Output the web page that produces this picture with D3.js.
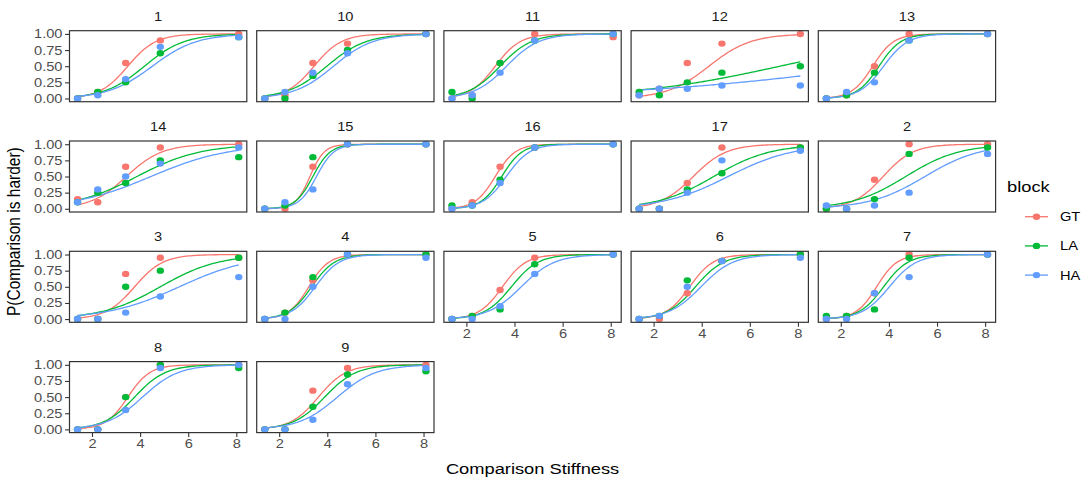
<!DOCTYPE html>
<html>
<head>
<meta charset="utf-8">
<script src="https://cdn.jsdelivr.net/npm/d3@7"></script>
<style>
  body { margin: 0; background: #fff; }
  svg { display: block; font-family: "Liberation Sans", Arial, Helvetica, sans-serif; }
  .tick text { fill: #4d4d4d; font-size: 12.4px; }
  .tick line { stroke: #333; stroke-width: 1.1; }
  .domain { display: none; }
</style>
</head>
<body>
<svg id="chart" width="1083" height="479"></svg>
<script>
// ── Data ──
const facets = ["1", "10", "11", "12", "13", "14", "15", "16", "17", "2", "3", "4", "5", "6", "7", "8", "9"];
const stiffness = [1.4, 2.24, 3.4, 4.84, 8.1];
const blocks = ["GT", "LA", "HA"];
const blockColors = ["#F8766D", "#00BA38", "#619CFF"];

// observed proportion "comparison is harder", one row per facet (same order as facets)
const gtProp = [
  [0, 0.1, 0.55, 0.9, 1], [0, 0.05, 0.55, 0.85, 1], [0, 0.05, 0.55, 1, 0.95], [0.05, 0.15, 0.55, 0.85, 1],
  [0, 0.05, 0.5, 1, 1], [0.15, 0.1, 0.65, 0.95, 1], [0, 0, 0.65, 1, 1], [0, 0.1, 0.65, 0.95, 1],
  [0, 0, 0.4, 0.95, 0.95], [0, 0, 0.45, 1, 1], [0, 0, 0.7, 0.95, 0.95], [0, 0.1, 0.6, 1, 1],
  [0, 0.05, 0.45, 0.95, 1], [0, 0, 0.4, 0.9, 1], [0, 0.05, 0.4, 1, 1], [0, 0, 0.5, 1, 1], [0, 0, 0.6, 0.95, 1]
];
const laProp = [
  [0, 0.1, 0.25, 0.7, 0.95], [0, 0, 0.35, 0.75, 1], [0.1, 0, 0.55, 0.9, 1], [0.1, 0.05, 0.25, 0.4, 0.5],
  [0, 0.05, 0.4, 0.9, 1], [0.1, 0.25, 0.4, 0.75, 0.8], [0, 0.05, 0.8, 1, 1], [0.05, 0.05, 0.45, 0.95, 1],
  [0, 0, 0.3, 0.55, 0.95], [0, 0, 0.15, 0.85, 0.95], [0, 0, 0.5, 0.75, 0.95], [0, 0.1, 0.65, 1, 1],
  [0, 0.05, 0.15, 0.85, 1], [0, 0.05, 0.6, 0.9, 1], [0.05, 0.05, 0.15, 0.95, 1], [0, 0, 0.5, 1, 0.95], [0, 0, 0.35, 0.85, 0.9]
];
const haProp = [
  [0, 0.05, 0.3, 0.8, 0.95], [0, 0.1, 0.4, 0.7, 1], [0, 0.05, 0.4, 0.9, 1], [0.05, 0.15, 0.15, 0.2, 0.2],
  [0, 0.1, 0.25, 0.9, 1], [0.1, 0.3, 0.5, 0.7, 0.95], [0, 0.1, 0.3, 1, 1], [0, 0.05, 0.4, 0.95, 1],
  [0, 0, 0.25, 0.75, 0.9], [0.05, 0, 0.05, 0.25, 0.85], [0, 0, 0.1, 0.35, 0.65], [0, 0, 0.5, 1, 0.95],
  [0, 0, 0.2, 0.7, 1], [0, 0.05, 0.5, 0.9, 0.95], [0, 0, 0.4, 0.65, 1], [0, 0, 0.3, 0.95, 1], [0, 0, 0.15, 0.7, 0.95]
];

// fitted psychometric curves (model estimates): point of subjective equality and logit slope per facet
const gtPse   = [3.49, 3.45, 3.2, 4.3, 3.33, 3.43, 3.28, 3.2, 3.65, 3.76, 3.77, 3.23, 3.5, 3.5, 3.49, 3.49, 3.63];
const gtSlope = [1.72, 1.75, 1.92, 1.15, 2.3, 1.35, 3.35, 2.4, 1.45, 1.6, 1.69, 2.4, 2.05, 2.05, 2.35, 2.18, 1.74];
const laPse   = [4.18, 3.98, 3.4, 7.25, 3.59, 3.87, 3.4, 3.47, 4.5, 4.7, 4.84, 3.35, 3.87, 3.74, 3.78, 3.77, 3.89];
const laSlope = [1.21, 1.22, 1.53, 0.325, 2.2, 0.76, 2.75, 2.36, 0.85, 0.9, 0.83, 2.1, 1.8, 1.7, 1.97, 1.56, 1.53];
const haPse   = [4.51, 4.26, 3.67, 11.4, 3.78, 4.45, 3.55, 3.66, 5.1, 5.5, 5.63, 3.5, 4.28, 3.97, 4.02, 4.1, 4.42];
const haSlope = [1.09, 1.22, 1.49, 0.19, 1.97, 0.62, 2.75, 2.06, 0.74, 0.87, 0.67, 2.0, 1.44, 1.5, 1.77, 1.34, 1.25];

const propsByBlock = [gtProp, laProp, haProp];
const pseByBlock = [gtPse, laPse, haPse];
const slopeByBlock = [gtSlope, laSlope, haSlope];
const yTicks = [0, 0.25, 0.5, 0.75, 1];
const xTicks = [2, 4, 6, 8];

// ── Layout ──
const svg = d3.select("#chart");
const nCol = 5;
const panelW = 177.3, panelH = 71;
const colStep = 187.2, rowStep = 110.3;
const left0 = 69.5, top0 = 30.7;
const sx = 1.18; // the original render is stretched horizontally; text follows it

const x = d3.scaleLinear()
  .domain([1.4 - 0.05 * 6.7, 8.1 + 0.05 * 6.7])
  .range([0, panelW]);
const y = d3.scaleLinear()
  .domain([-0.05, 1.05])
  .range([panelH, 0]);

const line = d3.line().x(d => x(d[0])).y(d => y(d[1]));
const xGrid = d3.range(0, 81).map(i => 1.4 + (8.1 - 1.4) * i / 80);

function addText(sel, tx, ty, str, size, anchor, fill) {
  return sel.append("text")
    .attr("transform", `translate(${tx},${ty}) scale(${sx},1)`)
    .attr("text-anchor", anchor || "start")
    .attr("font-size", size + "px")
    .attr("fill", fill || "#000")
    .text(str);
}

// stretch axis tick labels the same way
function stretchTicks(axisG) {
  axisG.selectAll(".tick text").each(function () {
    const t = d3.select(this);
    const ox = +t.attr("x") || 0;
    t.attr("x", ox / sx).attr("transform", `scale(${sx},1)`);
  });
}

facets.forEach((name, fi) => {
  const col = fi % nCol, row = Math.floor(fi / nCol);
  const gx = left0 + col * colStep, gy = top0 + row * rowStep;
  const g = svg.append("g").attr("transform", `translate(${gx},${gy})`);

  // strip label
  addText(g, panelW / 2, -10, name, 12.4, "middle", "#1a1a1a");

  // y axis on first column
  if (col === 0) {
    const ay = g.append("g")
      .call(d3.axisLeft(y).tickValues(yTicks).tickFormat(d3.format(".2f")).tickSize(4.4).tickPadding(2.6));
    stretchTicks(ay);
  }
  // x axis on the lowest panel of each column
  if (fi + nCol >= facets.length) {
    const ax = g.append("g")
      .attr("transform", `translate(0,${panelH})`)
      .call(d3.axisBottom(x).tickValues(xTicks).tickSize(4.4).tickPadding(2.6));
    stretchTicks(ax);
  }

  // fitted curves
  blocks.forEach((b, bi) => {
    const pse = pseByBlock[bi][fi], k = slopeByBlock[bi][fi];
    g.append("path")
      .datum(xGrid.map(v => [v, 1 / (1 + Math.exp(-k * (v - pse)))]))
      .attr("d", line)
      .attr("fill", "none")
      .attr("stroke", blockColors[bi])
      .attr("stroke-width", 1.3);
  });

  // points
  blocks.forEach((b, bi) => {
    g.selectAll(null)
      .data(propsByBlock[bi][fi].map((p, i) => [stiffness[i], p]))
      .join("ellipse")
      .attr("cx", d => x(d[0]))
      .attr("cy", d => y(d[1]))
      .attr("rx", 3.7).attr("ry", 3.2)
      .attr("fill", blockColors[bi]);
  });

  // panel border
  g.append("rect")
    .attr("width", panelW).attr("height", panelH)
    .attr("fill", "none").attr("stroke", "#333").attr("stroke-width", 1.2);
});

// ── Axis titles ──
addText(svg, left0 + (4 * colStep + panelW) / 2, 473.5, "Comparison Stiffness", 15.5, "middle");

svg.append("text")
  .attr("transform", `translate(19.5,${top0 + (3 * rowStep + panelH) / 2}) scale(${sx},1) rotate(-90)`)
  .attr("text-anchor", "middle").attr("font-size", "15.5px").attr("fill", "#000")
  .text("P(Comparison is harder)");

// ── Legend ──
const legend = svg.append("g").attr("transform", "translate(1007,0)");
addText(legend, 0, 191.5, "block", 15.5);

blocks.forEach((b, bi) => {
  const ky = 216.7 + bi * 29.2;
  legend.append("line")
    .attr("x1", 18).attr("x2", 41).attr("y1", ky).attr("y2", ky)
    .attr("stroke", blockColors[bi]).attr("stroke-width", 1.3);
  legend.append("ellipse")
    .attr("cx", 29.5).attr("cy", ky).attr("rx", 3.7).attr("ry", 3.2)
    .attr("fill", blockColors[bi]);
  addText(legend, 53, ky + 4.4, b, 12.4);
});
</script>
</body>
</html>
